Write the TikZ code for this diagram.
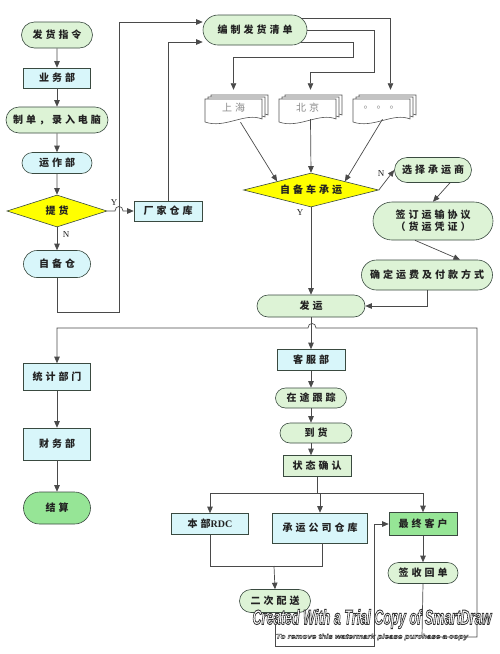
\documentclass[tikz,border=0pt]{standalone}
\usepackage{fontspec}
\usepackage{graphicx}
\setmainfont{Noto Sans CJK SC}[LetterSpace=30]
\newfontfamily\serifL{Liberation Serif}
\newfontfamily\wmfont{Liberation Sans}
\usetikzlibrary{shapes.geometric,shapes.misc,arrows.meta,calc}
\definecolor{lgreen}{HTML}{DDF3D6}
\definecolor{lcyan}{HTML}{D8F6FA}
\definecolor{bgreen}{HTML}{96E596}
\definecolor{yel}{HTML}{FFFF00}
\definecolor{bordc}{HTML}{3A4A40}
\definecolor{linec}{HTML}{4A4A4A}
\definecolor{txtc}{HTML}{222222}
\definecolor{docc}{HTML}{555555}
\definecolor{doctxt}{HTML}{8A8A8A}
\newcommand\nf{\fontsize{10}{12}\selectfont\bfseries}
\newcommand\outlined[2]{{\color{white}\special{pdf:literal direct 2 Tr #2 w 0.2 0.2 0.2 RG}#1\special{pdf:literal direct 0 Tr}}}
\newcommand\sheet[2]{\filldraw[sheetst] (#1,#2) -- (#1+57,#2) -- (#1+57,#2+20)
  .. controls (#1+40,#2+13) and (#1+20,#2+30) .. (#1,#2+23) -- cycle;}
\tikzset{
  base/.style={draw=bordc, line width=0.6pt, inner sep=0pt, font=\nf, text=txtc},
  sz/.style n args={2}{minimum width=#1pt, minimum height=#2pt},
  gr/.style={base, rounded rectangle, fill=lgreen},
  cyr/.style={base, rounded rectangle, fill=lcyan},
  cyb/.style={base, rectangle, fill=lcyan},
  grb/.style={base, rectangle, fill=lgreen},
  bgb/.style={base, rectangle, fill=bgreen},
  bgr/.style={base, rounded rectangle, fill=bgreen},
  dia/.style={base, diamond, aspect=4, fill=yel},
  arr/.style={draw=linec, line width=0.7pt, -{Triangle[length=6.5pt,width=5.5pt]}},
  ln/.style={draw=linec, line width=0.7pt},
  lbl/.style={font=\serifL\fontsize{9}{9}\selectfont, text=txtc, inner sep=0pt},
  doct/.style={font=\fontsize{10}{12}\selectfont, text=doctxt, inner sep=0pt, sz={57}{20}},
  sheetst/.style={draw=docc, fill=white, line width=0.6pt},
}
\begin{document}
\begin{tikzpicture}[x=1pt,y=-1pt]
\useasboundingbox (0,0) rectangle (500,654);
\fill[white] (0,0) rectangle (500,654);
% documents (stacked sheets)
\sheet{211}{95}\sheet{208}{97}\sheet{205}{99}
\sheet{285}{95}\sheet{282}{97}\sheet{279}{99}
\sheet{359}{95}\sheet{356}{97}\sheet{353}{99}
\node[doct] (d1) at (233.5,108) {上海};
\node[doct] (d2) at (307.5,108) {北京};
\node[doct] (d3) at (381.5,108) {。。。};
% left column
\node[gr,sz={71}{26}] (n1) at (57,35) {发货指令};
\node[cyb,sz={67}{20}] (n2) at (57,78) {业务部};
\node[gr,sz={102}{26}] (n3) at (57,120) {制单，录入电脑};
\node[cyr,sz={70}{21}] (n4) at (57,163) {运作部};
\node[dia,sz={100}{32}] (n5) at (57,211) {提货};
\node[cyr,sz={67}{27}] (n6) at (57,264) {自备仓};
\node[cyb,sz={68}{20}] (n7) at (168,211) {厂家仓库};
\node[gr,sz={104}{30}] (n8) at (255,30) {编制发货清单};
\node[dia,sz={135}{34}] (n9) at (311,190) {自备车承运};
\node[gr,sz={77}{25}] (n10) at (433,170) {选择承运商};
\node[gr,sz={120}{38},align=center] (n11) at (433,221) {签订运输协议\\（货运凭证）};
\node[gr,sz={131}{30}] (n12) at (427,275) {确定运费及付款方式};
\node[gr,sz={108}{22}] (n13) at (311,306) {发运};
\node[cyb,sz={68}{21}] (n14) at (311,360) {客服部};
\node[gr,sz={71}{20}] (n15) at (311,398) {在途跟踪};
\node[gr,sz={72}{20}] (n16) at (316,433) {到货};
\node[grb,sz={68}{21}] (n17) at (317,466) {状态确认};
\node[cyb,sz={77}{21}] (n18) at (210,524) {本部{\serifL\bfseries RDC}};
\node[cyb,sz={95}{30}] (n19) at (320,528) {承运公司仓库};
\node[bgb,sz={68}{23}] (n20) at (423,524) {最终客户};
\node[gr,sz={70}{21}] (n21) at (423,573) {签收回单};
\node[gr,sz={71}{23}] (n22) at (275,601) {二次配送};
\node[cyb,sz={67}{27}] (n23) at (57,377) {统计部门};
\node[cyb,sz={67}{32}] (n24) at (57,444) {财务部};
\node[bgr,sz={67}{32}] (n25) at (57,508) {结算};
% labels
\node[lbl] (ly1) at (114,203) {Y};
\node[lbl] (ln1) at (66,235) {N};
\node[lbl] (ln2) at (381,174) {N};
\node[lbl] (ly2) at (300,213) {Y};
% connectors left column
\draw[arr] (n1) -- (n2);
\draw[arr] (n2) -- (n3);
\draw[arr] (n3) -- (n4);
\draw[arr] (n4) -- (n5);
\draw[arr] (n5) -- (n6);
\draw[arr] (n5.east) -- (115,211) .. controls (115,205) and (123,205) .. (123,211) -- (n7.west);
\draw[arr] (n6.south) -- (57,312) -- (119,312) -- (119,22) -- (n8.west |- 0,22);
\draw[arr] (n7.north) |- (n8.west |- 0,42);
% to documents
\draw[arr] ($(n8.east)+(-6,12)$) -- (353,42) -- (353,57) -| ($(d1.north)+(0,-8)$);
\draw[arr] (n8.east) -- (374,30) -- (374,72) -| ($(d2.north)+(3,-8)$);
\draw[arr] ($(n8.east)+(-6,-12)$) -| ($(d3.north)+(9,-8)$);
% documents to diamond
\draw[arr] ($(d1.south)+(7,4)$) -- (n9.north west);
\draw[arr] ($(d2.south)+(3,1)$) -- (n9.north);
\draw[arr] ($(d3.south)+(1,1)$) -- (n9.north east);
% right branch
\draw[arr] (n9.east) -- (n10.west);
\draw[arr] ($(n10.south)+(17,0)$) -- (n11.north);
\draw[arr] ($(n11.south)+(-18,0)$) -- ($(n12.north)+(33,0)$);
\draw[arr] (n12.south) |- (n13.east);
\draw[arr] (n9.south) -- (n13.north);
% lower part
\draw[arr] (n13.south) -- (n14.north);
\draw[arr] (n14.south) -- (n15.north);
\draw[arr] (n15.south) -- (n15.south |- n16.north);
\draw[arr] (n15.south |- n16.south) -- (n15.south |- n17.north);
\coordinate (sp) at (317,493);
\draw[ln] (n17.south) -- (sp);
\draw[arr] (sp) -| (n18.north);
\draw[arr] (sp) -| (n20.north);
\draw[arr] (n19.north |- sp) -- (n19.north);
\draw[ln] (n18.south) |- (322,566) -- (322,543);
\coordinate (mg) at (274,566);
\draw[arr] (mg) -- (n22.north);
\draw[arr] (n22.south) -- (275,646) -- (374,646) |- (n20.west);
\draw[arr] (n20.south) -- (n21.north);
\draw[arr] (n21.south) -- (422,637) -- (477,637) -- (477,328) -- (316,328)
  .. controls (316,322) and (308,322) .. (308,328) -- (57,328) -- (n23.north);
\draw[arr] (n23) -- (n24);
\draw[arr] (n24) -- (n25);
% watermark
\node[inner sep=0pt] (wm1) at (372,619) {\resizebox{239pt}{15pt}{\outlined{\wmfont\bfseries\itshape Created With a Trial Copy of SmartDraw}{0.45}}};
\node[inner sep=0pt] (wm2) at (372,637) {\resizebox{192pt}{5pt}{\outlined{\wmfont\bfseries\itshape To remove this watermark please purchase a copy}{0.5}}};
\end{tikzpicture}
\end{document}
